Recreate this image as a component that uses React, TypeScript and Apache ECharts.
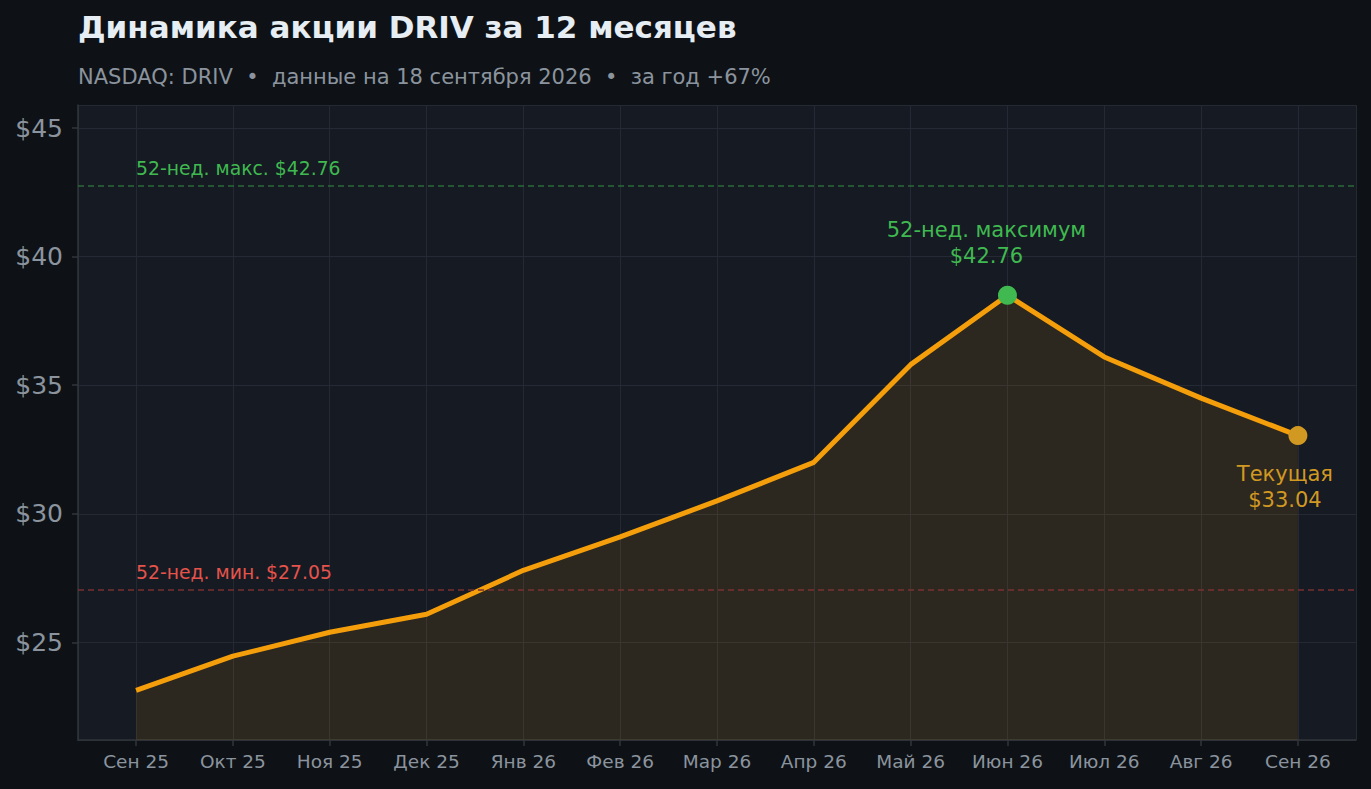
import { useEffect, useRef } from "react";
import * as echarts from "echarts";

const months = [
  "Сен 25", "Окт 25", "Ноя 25", "Дек 25", "Янв 26", "Фев 26", "Мар 26",
  "Апр 26", "Май 26", "Июн 26", "Июл 26", "Авг 26", "Сен 26",
];
const prices = [23.13, 24.46, 25.39, 26.09, 27.8, 29.1, 30.5, 32.0, 35.8, 38.5, 36.1, 34.5, 33.04];
const high52 = 42.76;
const low52 = 27.05;
const peakIndex = 9;
const currentIndex = 12;

const FONT = "DejaVu Sans, sans-serif";

export default function App() {
  const chartRef = useRef<HTMLDivElement>(null);

  useEffect(() => {
    if (!chartRef.current) return;
    const chart = echarts.init(chartRef.current, null, { renderer: "svg" });

    const seriesData = prices.map((p, i) => [i, p]);

    const option: echarts.EChartsOption = {
      animation: false,
      backgroundColor: "#0e1216",
      textStyle: { fontFamily: FONT },
      title: {
        text: "Динамика акции DRIV за 12 месяцев",
        subtext: "NASDAQ: DRIV  •  данные на 18 сентября 2026  •  за год +67%",
        left: 73,
        top: 6,
        itemGap: 24,
        textStyle: { color: "#e6edf3", fontSize: 31, fontWeight: "bold", fontFamily: FONT },
        subtextStyle: { color: "#8b949e", fontSize: 21, fontFamily: FONT },
      },
      grid: {
        left: 78,
        right: 15,
        top: 105,
        bottom: 49,
        show: true,
        backgroundColor: "#161a22",
        borderWidth: 0,
      },
      xAxis: {
        type: "value",
        min: -0.6,
        max: 12.6,
        splitNumber: 13,
        minInterval: 1,
        axisLine: { show: true, onZero: false, lineStyle: { color: "#30363d", width: 1.5 } },
        axisTick: { show: true, length: 6, lineStyle: { color: "#30363d", width: 1.5 } },
        axisLabel: {
          color: "#8b949e",
          fontSize: 18.5,
          margin: 12,
          showMinLabel: false,
          showMaxLabel: false,
          formatter: (v: number) => (Number.isInteger(v) ? months[v] ?? "" : ""),
        },
        splitLine: { show: true, lineStyle: { color: "#242933", width: 1 } },
      },
      yAxis: {
        type: "value",
        min: 21.2,
        max: 45.9,
        axisLine: { show: true, onZero: false, lineStyle: { color: "#30363d", width: 1.5 } },
        axisTick: { show: true, length: 6, lineStyle: { color: "#30363d", width: 1.5 } },
        axisLabel: {
          color: "#8b949e",
          fontSize: 25,
          margin: 15,
          showMinLabel: false,
          showMaxLabel: false,
          formatter: (v: number) => (Number.isInteger(v) && v % 5 === 0 ? `$${v}` : ""),
        },
        splitLine: { show: true, lineStyle: { color: "#242933", width: 1 } },
      },
      series: [
        {
          type: "line",
          data: seriesData,
          showSymbol: false,
          lineStyle: { color: "#f59e0b", width: 5 },
          itemStyle: { color: "#f59e0b" },
          areaStyle: { color: "rgba(245,158,11,0.15)", origin: "start" },
          z: 3,
          markLine: {
            silent: true,
            symbol: "none",
            label: { show: false },
            data: [
              { yAxis: high52, lineStyle: { color: "#2d6a3a", type: [6, 4], width: 1.5 } },
              { yAxis: low52, lineStyle: { color: "#7a3032", type: [6, 4], width: 1.5 } },
            ],
          },
          markPoint: {
            silent: true,
            data: [
              {
                coord: [0, high52],
                symbolSize: 0,
                label: {
                  show: true,
                  position: [0, -27],
                  formatter: `52-нед. макс. $${high52.toFixed(2)}`,
                  color: "#3fb950",
                  fontSize: 18.8,
                  fontFamily: FONT,
                },
              },
              {
                coord: [0, low52],
                symbolSize: 0,
                label: {
                  show: true,
                  position: [0, -27],
                  formatter: `52-нед. мин. $${low52.toFixed(2)}`,
                  color: "#e5534b",
                  fontSize: 18.8,
                  fontFamily: FONT,
                },
              },
            ],
          },
        },
        {
          type: "scatter",
          z: 5,
          symbolSize: 19,
          itemStyle: { opacity: 1 },
          data: [
            {
              value: [peakIndex, prices[peakIndex]],
              itemStyle: { color: "#3fb950", opacity: 1 },
              label: {
                show: true,
                position: "top",
                distance: 17,
                offset: [-21, 0],
                align: "center",
                formatter: `52-нед. максимум\n$${high52.toFixed(2)}`,
                color: "#3fb950",
                fontSize: 21,
                lineHeight: 26,
                fontFamily: FONT,
              },
            },
            {
              value: [currentIndex, prices[currentIndex]],
              itemStyle: { color: "#d29922", opacity: 1 },
              label: {
                show: true,
                position: "bottom",
                distance: 16,
                offset: [-13, 0],
                align: "center",
                formatter: `Текущая\n$${prices[currentIndex].toFixed(2)}`,
                color: "#d29922",
                fontSize: 21,
                lineHeight: 26,
                fontFamily: FONT,
              },
            },
          ],
        },
      ],
    };

    chart.setOption(option);
    return () => chart.dispose();
  }, []);

  return (
    <div
      ref={chartRef}
      style={{ position: "fixed", left: 0, top: 0, width: 1371, height: 789 }}
    />
  );
}
